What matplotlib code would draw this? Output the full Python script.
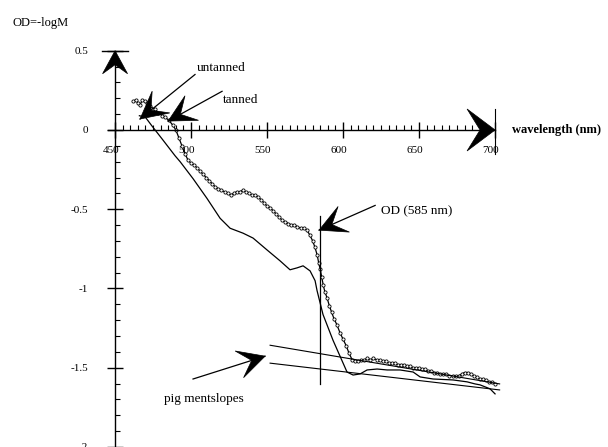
#!/usr/bin/env python3
"""Skin reflectance spectra (OD = -log M) for tanned and untanned skin."""

import math

import matplotlib
matplotlib.use("Agg")
import matplotlib.pyplot as plt
from matplotlib.patches import Polygon
from matplotlib.transforms import Affine2D, ScaledTranslation


# tanned skin (upper trace, open circles)
TANNED_WL = [
    462, 463.5, 465, 466.5, 468, 469.5, 471, 473, 476, 478.5, 481, 483, 485.5,
    488, 490, 492, 494, 496, 498, 500, 502, 504, 506, 508, 510, 512, 514, 516,
    518, 520, 522, 524, 526, 528, 530, 532, 534, 536, 538, 540, 542, 544, 546,
    548, 550, 552, 554, 556, 558, 560, 562, 564, 566, 568, 570, 572, 574, 576,
    578, 580, 581.5, 583, 584, 585, 586, 587, 588, 589.5, 591, 592.5, 594, 596,
    598, 600, 602, 604, 606, 608, 610, 612, 614, 616, 618, 620, 622, 624, 626,
    628, 630, 632, 634, 636, 638, 640, 642, 644, 646, 648, 650, 652, 654, 656,
    658, 660, 662, 664, 666, 668, 670, 672, 674, 676, 678, 680, 682, 684, 686,
    688, 690, 692, 694, 696, 698, 700,
]
TANNED_OD = [
    0.18, 0.19, 0.17, 0.16, 0.19, 0.18, 0.17, 0.15, 0.13, 0.11, 0.09, 0.08, 0.06,
    0.03, 0.00, -0.05, -0.10, -0.15, -0.19, -0.21, -0.22, -0.24, -0.26, -0.28,
    -0.30, -0.32, -0.34, -0.36, -0.37, -0.38, -0.39, -0.40, -0.41, -0.40, -0.39,
    -0.39, -0.38, -0.39, -0.40, -0.41, -0.41, -0.42, -0.44, -0.46, -0.48, -0.49,
    -0.51, -0.53, -0.55, -0.57, -0.58, -0.59, -0.60, -0.60, -0.61, -0.62, -0.62,
    -0.63, -0.66, -0.70, -0.74, -0.79, -0.84, -0.88, -0.93, -0.98, -1.02, -1.06,
    -1.11, -1.15, -1.19, -1.23, -1.28, -1.32, -1.36, -1.41, -1.45, -1.46, -1.46,
    -1.45, -1.45, -1.44, -1.45, -1.44, -1.45, -1.45, -1.46, -1.46, -1.47, -1.47,
    -1.47, -1.48, -1.48, -1.48, -1.49, -1.49, -1.50, -1.50, -1.50, -1.51, -1.51,
    -1.52, -1.52, -1.53, -1.53, -1.54, -1.54, -1.54, -1.55, -1.55, -1.55, -1.55,
    -1.54, -1.53, -1.53, -1.54, -1.55, -1.56, -1.57, -1.57, -1.58, -1.59, -1.59,
    -1.60,
]

# untanned skin (lower trace, plain line)
UNTANNED_WL = [
    466, 470, 474.3, 480.9, 489.5, 492.8, 501.3, 510.5, 519.1, 525.7, 534.2,
    540.8, 550.0, 558.6, 565.1, 569.7, 573.7, 578.3, 581.6, 582.9, 586.8, 593.4,
    602.6, 606.6, 611.2, 615.8, 622.4, 629.0, 637.5, 646.1, 650.7, 659.2, 672.4,
    681.6, 686.8, 690.1, 696.7, 700,
]
UNTANNED_OD = [
    0.09, 0.08, 0.025, -0.056, -0.163, -0.200, -0.307, -0.432, -0.557, -0.620,
    -0.651, -0.682, -0.757, -0.826, -0.882, -0.870, -0.857, -0.889, -0.951,
    -1.014, -1.164, -1.327, -1.527, -1.546, -1.539, -1.514, -1.508, -1.514,
    -1.514, -1.527, -1.558, -1.571, -1.577, -1.589, -1.602, -1.608, -1.633,
    -1.665,
]

OD_WAVELENGTH = 585
OD_LINE_SPAN = [-0.54, -1.60]

SLOPE_WL = [552, 703]
SLOPE_UPPER_OD = [-1.358, -1.602]
SLOPE_LOWER_OD = [-1.471, -1.640]

X_TICKS = [450, 500, 550, 600, 650, 700]
X_MINOR = [w for w in range(455, 700, 5) if w % 50]
Y_TICKS = [0.5, 0, -0.5, -1, -1.5, -2]
Y_TICK_LABELS = ["0.5", "0", "-0.5", "-1", "-1.5", "-2"]
Y_MINOR = [v / 10 for v in range(-20, 5) if v % 5]

# label, text position, arrow tail, arrow tip, horizontal alignment
CALLOUTS = [
    ("untanned", (503.9, 0.394), (502.6, 0.350), (466.4, 0.069), "left"),
    ("tanned", (521.1, 0.188), (520.4, 0.244), (484.9, 0.056), "left"),
    ("OD (585 nm)", (625.0, -0.513), (621.1, -0.476), (584.2, -0.632), "left"),
    ("pig mentslopes", (508.6, -1.70), (501.3, -1.571), (548.7, -1.427), "center"),
]


def configure_plot_style() -> None:
    plt.rcParams.update({
        "font.family": "serif",
        "font.serif": ["Liberation Serif", "DejaVu Serif"],
        "font.size": 9,
        "axes.linewidth": 1.0,
        "lines.linewidth": 0.9,
    })


def draw_head(ax, tail, tip, length, width, notch) -> None:
    """Filled stealth-style arrowhead, sized in pixels."""
    x0, y0 = ax.transData.transform(tail)
    x1, y1 = ax.transData.transform(tip)
    angle = math.atan2(y1 - y0, x1 - x0)
    shape = [(0, 0), (-length, width / 2), (-notch, 0), (-length, -width / 2)]
    trans = Affine2D().rotate(angle) + ScaledTranslation(tip[0], tip[1], ax.transData)
    ax.add_patch(Polygon(shape, closed=True, transform=trans, facecolor="black",
                         edgecolor="black", linewidth=0.5, zorder=5, clip_on=False))


def main() -> None:
    configure_plot_style()
    fig = plt.figure(figsize=(6.08, 4.47), dpi=100)
    ax = fig.add_axes([0, 0, 1, 1])
    ax.set_xlim(374.3, 774.3)
    ax.set_ylim(-1.977, 0.820)
    ax.patch.set_visible(False)

    # axes crossing at (450, 0)
    for side in ("top", "right"):
        ax.spines[side].set_visible(False)
    ax.spines["left"].set_position(("data", 450))
    ax.spines["bottom"].set_position(("data", 0))
    ax.spines["left"].set_bounds(-2.1, 0.5)
    ax.spines["bottom"].set_bounds(445.4, 700)

    ax.set_xticks(X_TICKS, [str(t) for t in X_TICKS])
    ax.set_xticks(X_MINOR, minor=True)
    ax.set_yticks(Y_TICKS, Y_TICK_LABELS)
    ax.set_yticks(Y_MINOR, minor=True)
    ax.tick_params(which="major", direction="inout", length=11, width=1.0,
                   labelsize=8)
    ax.tick_params(which="minor", direction="in", length=3.5, width=0.8)
    ax.tick_params(axis="x", which="major", pad=6)
    ax.tick_params(axis="y", which="major", pad=14)
    shift = ScaledTranslation(-3 / 72, 0, fig.dpi_scale_trans)
    for label in ax.get_xticklabels():
        label.set_transform(label.get_transform() + shift)

    # end bars and arrowheads of the axes
    ax.plot([441.4, 458.6], [0.5, 0.5], color="black", lw=1.0, clip_on=False)
    ax.plot([700, 700], [0.131, -0.150], color="black", lw=0.8, clip_on=False)
    draw_head(ax, (450, 0), (450, 0.5), 23, 25, 14)
    draw_head(ax, (450, 0), (700, 0), 28, 42, 15)

    # spectra
    ax.plot(TANNED_WL, TANNED_OD, color="black", lw=0.9, marker="o",
            markersize=2.3, markerfacecolor="white", markeredgewidth=0.6)
    ax.plot(UNTANNED_WL, UNTANNED_OD, color="black", lw=0.9)

    # OD read-out wavelength and pigment slopes
    ax.plot([OD_WAVELENGTH, OD_WAVELENGTH], OD_LINE_SPAN, color="black", lw=0.9)
    ax.plot(SLOPE_WL, SLOPE_UPPER_OD, color="black", lw=0.8)
    ax.plot(SLOPE_WL, SLOPE_LOWER_OD, color="black", lw=0.8)

    for text, text_xy, tail, tip, ha in CALLOUTS:
        ax.plot([tail[0], tip[0]], [tail[1], tip[1]], color="black", lw=0.9)
        draw_head(ax, tail, tip, 27, 28, 14)
        ax.text(text_xy[0], text_xy[1], text, ha=ha, va="center", fontsize=9.5)

    ax.text(382.2, 0.676, "OD=-logM", ha="left", va="center", fontsize=9)
    ax.text(711.2, 0.0, "wavelength (nm)", ha="left", va="center", fontsize=9,
            fontweight="bold")

    fig.savefig("out.png", dpi=100)
    plt.close(fig)


if __name__ == "__main__":
    main()
